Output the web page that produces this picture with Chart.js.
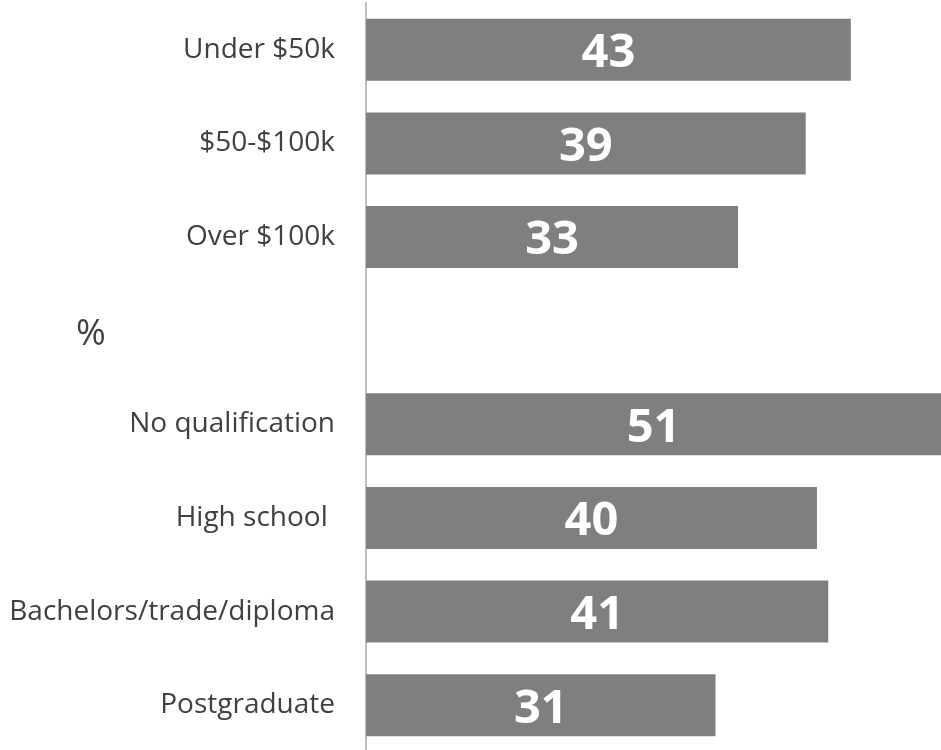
<!DOCTYPE html>
<html>
<head>
<meta charset="utf-8">
<script src="https://cdn.jsdelivr.net/npm/chart.js@4"></script>
<style>
  html, body { margin: 0; padding: 0; background: #fff; overflow: hidden; }
  #wrap { position: relative; width: 941px; height: 752px; }
</style>
</head>
<body>
<div id="wrap"><canvas id="myChart"></canvas></div>
<script>
const categories = [
  'Under $50k',
  '$50-$100k',
  'Over $100k',
  '',
  'No qualification',
  'High school ',
  'Bachelors/trade/diploma',
  'Postgraduate'
];
const values = [43, 39, 33, null, 51, 40, 41, 31];
const unitLabel = '%';
const unitRow = 3;

const ctx = document.getElementById('myChart');

// white numbers in the middle of each bar, plus the lone "%" in the gap row
const barText = {
  id: 'barText',
  afterDatasetsDraw(chart) {
    const c = chart.ctx;
    const meta = chart.getDatasetMeta(0);
    c.save();
    c.textAlign = 'center';
    c.textBaseline = 'middle';
    c.fillStyle = '#ffffff';
    c.font = 'bold 47px "Open Sans"';
    meta.data.forEach((bar, i) => {
      if (values[i] == null) return;
      const mid = (bar.x + bar.base) / 2;
      c.fillText(values[i], mid, bar.y + 4);
    });
    const y = chart.scales.y.getPixelForValue(unitRow);
    c.fillStyle = '#404040';
    c.font = '36px "Open Sans"';
    c.fillText(unitLabel, 91, y + 4);
    c.restore();
  }
};

var chart = new Chart(ctx, {
  type: 'bar',
  data: {
    labels: categories,
    datasets: [{
      data: values,
      backgroundColor: '#7f7f7f',
      borderWidth: 0,
      barPercentage: 0.662,
      categoryPercentage: 1
    }]
  },
  options: {
    indexAxis: 'y',
    responsive: true,
    maintainAspectRatio: false,
    animation: false,
    layout: { padding: { top: 3, left: 0, right: 0, bottom: 0 } },
    plugins: {
      legend: { display: false },
      tooltip: { enabled: false }
    },
    scales: {
      x: {
        display: false,
        min: 0,
        max: 51
      },
      y: {
        afterFit(scale) {
          scale.width = 366;
          scale.paddingTop = 0;
          scale.paddingBottom = 0;
        },
        grid: { display: false, drawTicks: false },
        border: { display: true, color: '#bfbfbf', width: 2 },
        ticks: {
          color: '#404040',
          padding: 31,
          font: { family: 'Open Sans', size: 28 }
        }
      }
    }
  },
  plugins: [barText]
});
</script>
</body>
</html>
